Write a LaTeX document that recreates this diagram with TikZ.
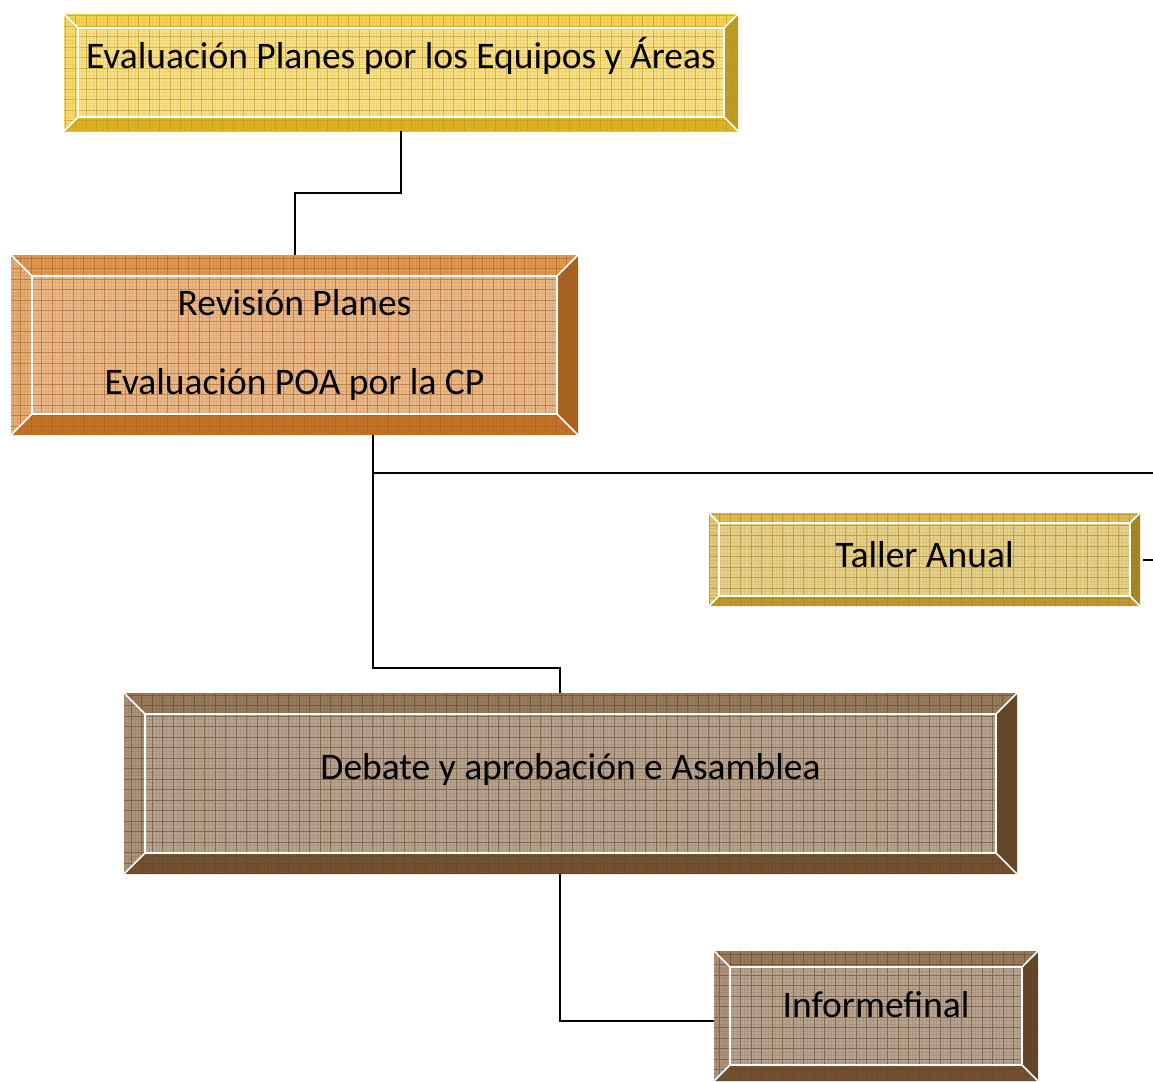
\documentclass[tikz,border=0pt]{standalone}
\usepackage{fontspec}
\setmainfont{Carlito}
\usetikzlibrary{positioning}
\definecolor{sunyellow}{RGB}{245,200,40}
\definecolor{burntorange}{RGB}{217,128,43}
\definecolor{oldgold}{RGB}{214,172,46}
\definecolor{earthbrown}{RGB}{128,90,54}
\tikzset{
  panel/.style 2 args={rectangle, inner sep=0pt, outer sep=0pt, align=center,
    font=\fontsize{37.5}{44}\selectfont, fill=#1!55!white,
    path picture={
      \path (path picture bounding box.north west) coordinate (pnw)
            (path picture bounding box.north east) coordinate (pne)
            (path picture bounding box.south east) coordinate (pse)
            (path picture bounding box.south west) coordinate (psw)
            ([xshift=#2,yshift=-#2]path picture bounding box.north west) coordinate (qnw)
            ([xshift=-#2,yshift=-#2]path picture bounding box.north east) coordinate (qne)
            ([xshift=-#2,yshift=#2]path picture bounding box.south east) coordinate (qse)
            ([xshift=#2,yshift=#2]path picture bounding box.south west) coordinate (qsw);
      \fill[#1!80!white] (pnw) -- (pne) -- (qne) -- (qnw) -- cycle;
      \fill[#1!78!black] (pne) -- (pse) -- (qse) -- (qne) -- cycle;
      \fill[#1!90!black] (pse) -- (psw) -- (qsw) -- (qse) -- cycle;
      \fill[#1!65!white] (psw) -- (pnw) -- (qnw) -- (qsw) -- cycle;
      % grid texture
      \draw[#1!70!black, opacity=.15, line width=.5pt, step=3.5pt] (psw) grid (pne);
      \draw[#1!75!black, opacity=.55, line width=.9pt, step=10.5pt] (psw) grid (pne);
      \draw[white, line width=1.6pt] (qnw) rectangle (qse)
        (pnw) -- (qnw) (pne) -- (qne) (pse) -- (qse) (psw) -- (qsw);
    }},
  link/.style={draw=black, line width=2pt}
}
\begin{document}
\begin{tikzpicture}[x=1pt, y=-1pt]
  \useasboundingbox (0,0) rectangle (1153,1081);
  \node[panel={sunyellow}{14pt}, minimum width=674pt, minimum height=117pt,
        text height=25pt, text depth=34pt] (eval) at (401,72.5)
        {Evaluación Planes por los Equipos y Áreas};
  \node[panel={burntorange}{21pt}, minimum width=567pt, minimum height=180pt,
        font=\fontsize{37.5}{79}\selectfont] (rev) at (294.5,345)
        {Revisión Planes\\Evaluación POA por la CP};
  \node[panel={oldgold}{10pt}, minimum width=431pt, minimum height=93pt,
        text height=25pt, text depth=10pt] (tal) at (924.5,559.5) {Taller Anual};
  \node[panel={earthbrown}{21pt}, minimum width=893pt, minimum height=181pt,
        text height=25pt, text depth=34pt] (deb) at (570.5,783.5)
        {Debate y aprobación e Asamblea};
  \node[panel={earthbrown}{16pt}, minimum width=324pt, minimum height=130pt,
        text height=25pt, text depth=23pt] (inf) at (876,1016) {Informefinal};
  \coordinate (edgeA) at (1153,473);
  \coordinate (edgeB) at (1153,559.5);
  % connectors
  \draw[link] (eval.south) -- ++(0,62) -| (rev.north);
  \draw[link] ([xshift=78.5pt]rev.south) |- ([xshift=-10.5pt,yshift=25pt]deb.north)
    -- ([xshift=-10.5pt]deb.north);
  \draw[link] ([xshift=78.5pt,yshift=-38pt]rev.south) -- (edgeA);
  \draw[link] ([xshift=3pt]tal.east) -- (edgeB);
  \draw[link] ([xshift=-10.5pt]deb.south) |- ([yshift=-5pt]inf.west);
\end{tikzpicture}
\end{document}
